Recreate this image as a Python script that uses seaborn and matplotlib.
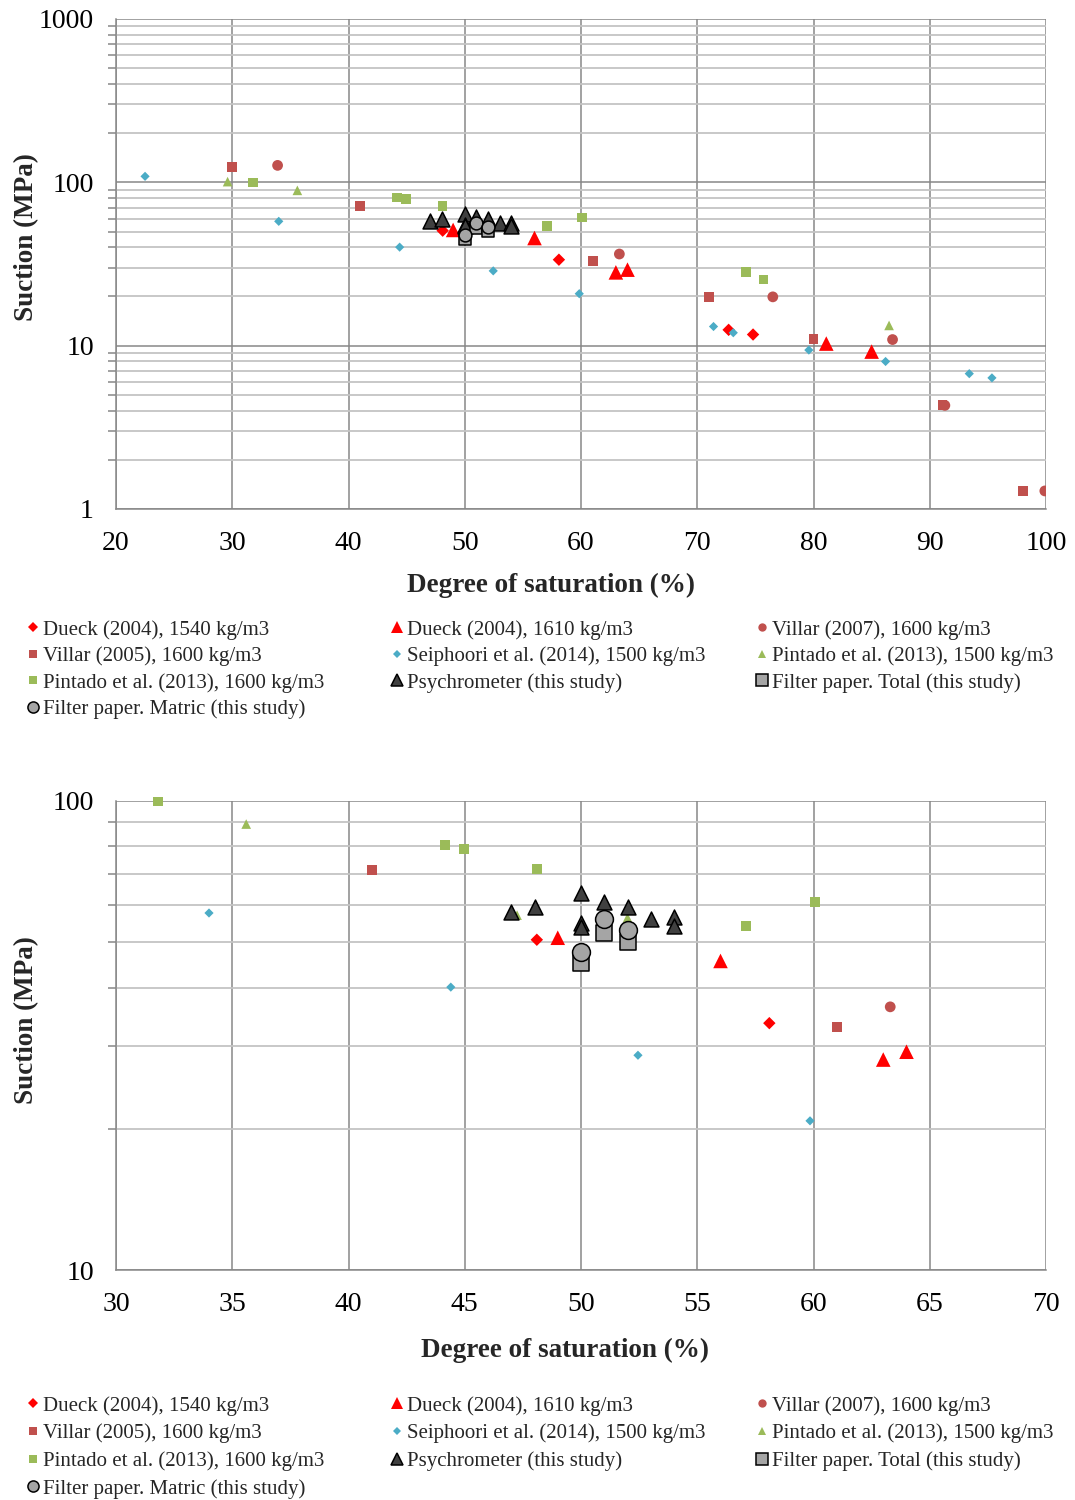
import numpy as np
import matplotlib
matplotlib.use("Agg")
import matplotlib.pyplot as plt
import seaborn as sns
from matplotlib.lines import Line2D
from matplotlib.ticker import FixedLocator, NullFormatter, FixedFormatter

# ---------------- data ----------------
dueck1540_x = [48.1, 58.1, 72.7, 74.8]
dueck1540_y = [50.6, 33.6, 12.5, 11.7]
dueck1610_x = [49.0, 56.0, 63.0, 64.0, 81.1, 85.0]
dueck1610_y = [51.1, 45.6, 28.1, 29.2, 10.3, 9.2]
villar2007_x = [33.9, 63.3, 76.5, 86.8, 91.3, 99.9]
villar2007_y = [127.0, 36.4, 19.9, 10.9, 4.31, 1.29]
villar2005_x = [30.0, 41.0, 61.0, 71.0, 80.0, 91.1, 98.0]
villar2005_y = [123.5, 71.3, 33.0, 19.9, 11.0, 4.31, 1.29]
seip_x = [22.5, 34.0, 44.4, 52.45, 59.85, 71.4, 73.1, 79.6, 86.2, 93.4, 95.35]
seip_y = [108.8, 57.7, 40.1, 28.7, 20.8, 13.1, 12.0, 9.4, 8.0, 6.74, 6.35]
pint1500_x = [29.6, 35.6, 47.25, 52.0, 86.5]
pint1500_y = [101.0, 89.3, 57.1, 56.4, 13.3]
pint1600_x = [31.8, 44.15, 44.97, 48.1, 57.1, 60.06, 74.2, 75.7]
pint1600_y = [99.8, 80.6, 79.0, 71.6, 54.1, 60.9, 28.2, 25.4]
psy_x = [47, 48, 50, 50, 50, 51, 52, 53, 54, 54]
psy_y = [58.1, 59.3, 63.8, 54.9, 54.0, 61.0, 59.5, 56.0, 56.5, 54.1]
fpt_x = [50, 51, 52]
fpt_y = [45.1, 52.3, 50.1]
fpm_x = [50, 51, 52]
fpm_y = [47.7, 56.0, 53.2]

labels = ["Dueck (2004), 1540 kg/m3", "Dueck (2004), 1610 kg/m3",
          "Villar (2007), 1600 kg/m3", "Villar (2005), 1600 kg/m3",
          "Seiphoori et al. (2014), 1500 kg/m3", "Pintado et al. (2013), 1500 kg/m3",
          "Pintado et al. (2013), 1600 kg/m3", "Psychrometer (this study)",
          "Filter paper. Total (this study)", "Filter paper. Matric (this study)"]

top_xticks = [20, 30, 40, 50, 60, 70, 80, 90, 100]
top_yticks = [1, 10, 100, 1000]
bot_xticks = [30, 35, 40, 45, 50, 55, 60, 65, 70]
bot_yticks = [10, 100]

xlabel = "Degree of saturation (%)"
ylabel = "Suction (MPa)"

# ---------------- styles ----------------
RED = "#FF0000"
BROWN = "#C0504D"
CYAN = "#4BACC6"
GREEN = "#9BBB59"
DARK = "#404040"
GREY = "#A5A5A5"

series = [
    (dueck1540_x, dueck1540_y, dict(marker="D", color=RED, s=40, lw=0, ec="none")),
    (dueck1610_x, dueck1610_y, dict(marker="^", color=RED, s=110, lw=0, ec="none")),
    (villar2007_x, villar2007_y, dict(marker="o", color=BROWN, s=60, lw=0, ec="none")),
    (villar2005_x, villar2005_y, dict(marker="s", color=BROWN, s=50, lw=0, ec="none")),
    (seip_x, seip_y, dict(marker="D", color=CYAN, s=22, lw=0, ec="none")),
    (pint1500_x, pint1500_y, dict(marker="^", color=GREEN, s=48, lw=0, ec="none")),
    (pint1600_x, pint1600_y, dict(marker="s", color=GREEN, s=48, lw=0, ec="none")),
    (psy_x, psy_y, dict(marker="^", color=DARK, s=115, lw=1.1, ec="black")),
    (fpt_x, fpt_y, dict(marker="s", color=GREY, s=85, lw=1.1, ec="black", s2=130)),
    (fpm_x, fpm_y, dict(marker="o", color=GREY, s=85, lw=1.1, ec="black", s2=165)),
]

sns.set_theme(style="white")
plt.rcParams["font.family"] = ["Liberation Serif", "DejaVu Serif"]

fig = plt.figure(figsize=(10.75, 15.0), dpi=100)
W, H = 1075.0, 1500.0
ax1 = fig.add_axes([116 / W, 1 - 509 / H, 930 / W, 490 / H])
ax2 = fig.add_axes([116 / W, 1 - 1270 / H, 930 / W, 469 / H])

MAJ = "#878787"
MIN = "#C4C4C4"


def style_axes(ax, xlim, ylim, xticks, yticks, yminor, xlabelpad, xlab_x, ylab_y):
    ax.set_yscale("log")
    ax.set_xlim(*xlim)
    ax.set_ylim(*ylim)
    ax.xaxis.set_major_locator(FixedLocator(xticks))
    ax.xaxis.set_major_formatter(FixedFormatter([str(t) for t in xticks]))
    ax.yaxis.set_major_locator(FixedLocator(yticks))
    ax.yaxis.set_major_formatter(FixedFormatter([str(t) for t in yticks]))
    ax.yaxis.set_minor_locator(FixedLocator(yminor))
    ax.yaxis.set_minor_formatter(NullFormatter())
    ax.grid(True, which="major", axis="both", color=MAJ, lw=1.1, zorder=0)
    ax.grid(True, which="minor", axis="y", color=MIN, lw=1.3, zorder=0)
    ax.set_axisbelow(True)
    for sp in ["top", "right"]:
        ax.spines[sp].set_visible(False)
    for sp in ["left", "bottom"]:
        ax.spines[sp].set_color(MAJ)
        ax.spines[sp].set_linewidth(1.1)
    ax.tick_params(axis="both", which="major", direction="out", length=6,
                   width=1.1, color=MAJ, labelsize=20, labelcolor="black")
    ax.tick_params(axis="y", which="major", pad=10)
    ax.tick_params(axis="x", which="major", pad=10)
    ax.tick_params(axis="y", which="minor", direction="out", length=6,
                   width=1.1, color=MAJ, left=True)
    ax.set_xlabel(xlabel, fontsize=19.5, fontweight="bold", labelpad=xlabelpad)
    ax.xaxis.label.set_x(xlab_x)
    ax.set_ylabel(ylabel, fontsize=19.5, fontweight="bold", va="center")
    ax.yaxis.set_label_coords(-0.096, ylab_y)


minor_top = [m * 10.0 ** e for e in range(0, 3) for m in range(2, 10)]
minor_bot = [m * 10.0 for m in range(2, 10)]

style_axes(ax1, (20, 100), (1, 1000), top_xticks, top_yticks, minor_top, 12, 0.468, 0.555)
style_axes(ax2, (30, 70), (10, 100), bot_xticks, bot_yticks, minor_bot, 15, 0.483, 0.533)

for i, (xs, ys, st) in enumerate(series):
    sns.scatterplot(x=xs, y=ys, ax=ax1, marker=st["marker"], color=st["color"],
                    s=st["s"], linewidth=st["lw"], edgecolor=st["ec"],
                    zorder=3 + i, legend=False)
    xa = np.asarray(xs, float)
    ya = np.asarray(ys, float)
    m = (xa >= 30) & (xa <= 70) & (ya >= 10) & (ya <= 100.5)
    sns.scatterplot(x=xa[m], y=ya[m], ax=ax2, marker=st["marker"], color=st["color"],
                    s=st.get("s2", st["s"]), linewidth=st["lw"], edgecolor=st["ec"],
                    zorder=3 + i, legend=False, clip_on=False)

# ---------------- legends ----------------
leg_ms = [7, 9, 6, 6, 5, 6, 6, 8, 8, 8]
handles = []
for (xs, ys, st), ms in zip(series, leg_ms):
    mk = st["marker"]
    handles.append(Line2D([], [], ls="none", marker=mk, color=st["color"],
                          markersize=ms * (0.75 if mk == "D" else 1.0),
                          markeredgecolor=st["ec"] if st["lw"] > 0 else st["color"],
                          markeredgewidth=st["lw"] if st["lw"] > 0 else 0))

cols = [[0, 3, 6, 9], [1, 4, 7], [2, 5, 8]]
col_x = [26, 390, 755]


def add_legends(y_top_px, spacing):
    for c, idx in enumerate(cols):
        fig.legend([handles[k] for k in idx], [labels[k] for k in idx],
                   loc="upper left", bbox_to_anchor=(col_x[c] / W, 1 - y_top_px / H),
                   frameon=False, fontsize=15, handlelength=0.65, handletextpad=0.15,
                   borderpad=0, borderaxespad=0, labelspacing=spacing)


add_legends(620, 0.32)
add_legends(1396, 0.38)

fig.savefig("out.png", dpi=100)
